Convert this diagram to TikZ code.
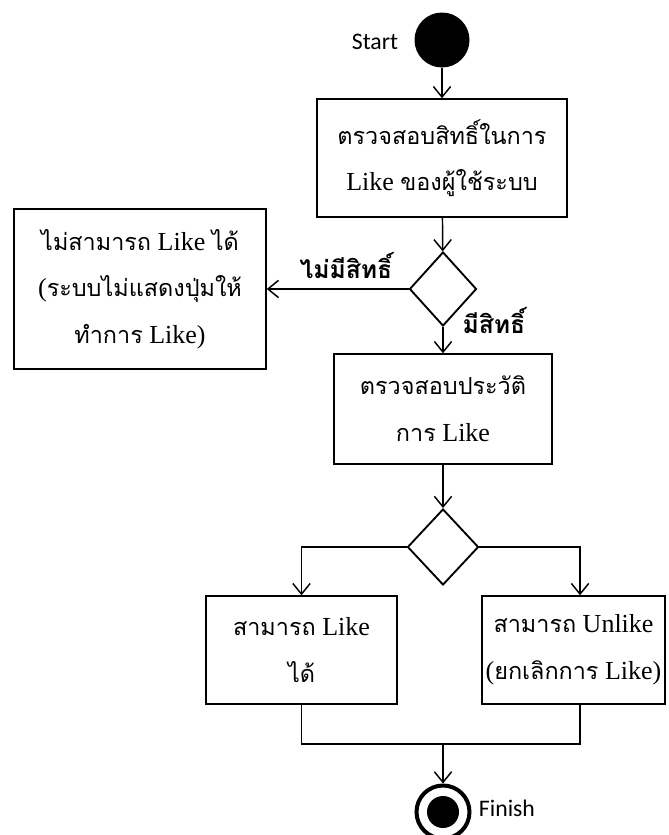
\documentclass[tikz,border=0pt]{standalone}
\usepackage{fontspec}
\setmainfont{Liberation Serif}
\newfontfamily\thaifont[Script=Thai,Scale=0.9]{Loma}
\newfontfamily\guardfont[Script=Thai]{Loma}
\newfontfamily\labelfont{Carlito}
\usetikzlibrary{arrows.meta,shapes.geometric}
\begin{document}
\begin{tikzpicture}[x=0.75pt,y=-0.75pt,
  line width=1.1pt,
  flow/.style={-{Straight Barb[length=8pt,width=13pt,line width=1.1pt]}},
  actbox/.style={draw,rectangle,align=center,inner sep=0pt,
    font=\fontsize{19.5}{35}\selectfont},
  decide/.style={draw,diamond,inner sep=0pt,line width=1.4pt},
  guard/.style={font=\guardfont\bfseries\fontsize{18.5}{20}\selectfont},
  term/.style={font=\labelfont\fontsize{17.8}{20}\selectfont}]

\useasboundingbox (0,0) rectangle (668,835);

% initial and final states
\node[circle,fill,minimum size=41.25pt,inner sep=0pt] (start) at (442,40) {};
\node[term] (startlbl) at (375,42) {Start};
\node[circle,draw,line width=3pt,minimum size=39.75pt,inner sep=0pt] (finish) at (443,812) {};
\node[circle,fill,minimum size=24pt,inner sep=0pt] (finishdot) at (finish) {};
\node[term] (finishlbl) at (507,808) {Finish};

% activities
\node[actbox,minimum width=187.5pt,minimum height=88.5pt] (check) at (442,158)
  {{\thaifont ตรวจสอบสิทธิ์ในการ}\\Like {\thaifont ของผู้ใช้ระบบ}};
\node[actbox,minimum width=189pt,minimum height=120pt] (deny) at (140,289)
  {{\thaifont ไม่สามารถ} Like {\thaifont ได้}\\({\thaifont ระบบไม่แสดงปุ่มให้}\\{\thaifont ทำการ} Like)};
\node[actbox,minimum width=163.5pt,minimum height=82.5pt] (history) at (443,409)
  {{\thaifont ตรวจสอบประวัติ}\\{\thaifont การ} Like};
\node[actbox,minimum width=143.25pt,minimum height=81pt] (canlike) at (301.5,650)
  {{\thaifont สามารถ} Like\\{\thaifont ได้}};
\node[actbox,minimum width=137.25pt,minimum height=81pt] (canunlike) at (573.5,650)
  {{\thaifont สามารถ} Unlike\\({\thaifont ยกเลิกการ} Like)};

% decisions
\node[decide,minimum width=50.25pt,minimum height=55.5pt] (perm) at (443,289) {};
\node[decide,minimum width=53.25pt,minimum height=57pt] (liked) at (443,547) {};

% guards
\node[guard] (noperm) at (346,265) {ไม่มีสิทธิ์};
\node[guard] (hasperm) at (494,320) {มีสิทธิ์};

% control flow
\coordinate (join) at (443,744);
\draw[flow] (start) -- (check);
\draw[flow] (check) -- (perm);
\draw[flow] (perm.west) -- (deny.east);
\draw[flow] (perm) -- (history);
\draw[flow] (history) -- (liked);
\draw[flow] (liked.west) -| (canlike.north);
\draw[flow] (liked.east) -| ([xshift=4.9pt]canunlike.north);
\draw (canlike.south) |- (join);
\draw ([xshift=4.9pt]canunlike.south) |- (join);
\draw[flow] (join) -- (finish);
\end{tikzpicture}
\end{document}
